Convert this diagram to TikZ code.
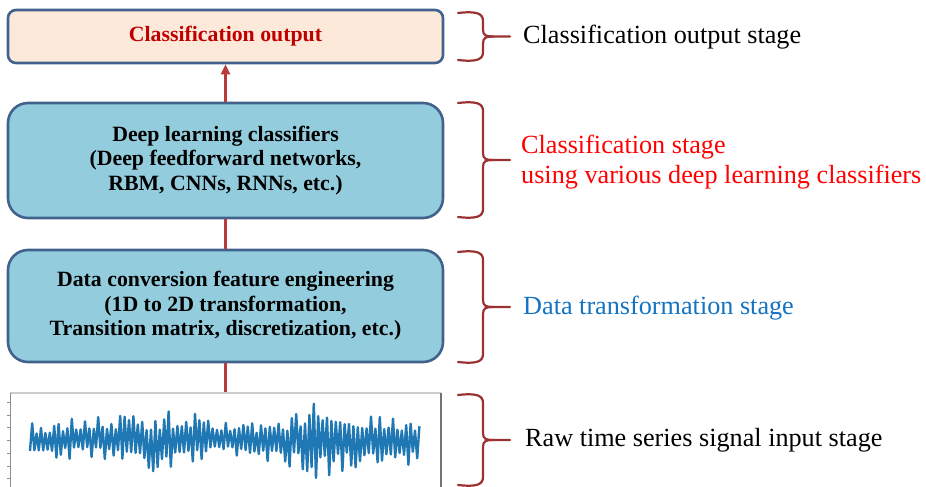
\documentclass[tikz,border=0pt]{standalone}
\usepackage{fontspec}
\setmainfont{Liberation Serif}
\usetikzlibrary{arrows.meta}
\definecolor{boxedge}{RGB}{65,98,140}
\definecolor{outfill}{RGB}{253,233,217}
\definecolor{stagefill}{RGB}{147,205,221}
\definecolor{outtext}{RGB}{192,0,0}
\definecolor{linkcol}{RGB}{185,60,60}
\definecolor{bracecol}{RGB}{155,50,50}
\definecolor{transblue}{RGB}{20,115,195}
\definecolor{sigblue}{RGB}{31,119,180}
\tikzset{
  stagebox/.style={draw=boxedge, line width=2.6pt, fill=stagefill, rounded corners=20pt,
    minimum width=435pt, align=center, inner sep=0pt,
    font=\bfseries\fontsize{21.8}{24.5}\selectfont},
  outbox/.style={stagebox, fill=outfill, rounded corners=8pt, text=outtext},
  link/.style={draw=linkcol, line width=2.3pt},
  bracestyle/.style={draw=bracecol, line width=2.2pt, line cap=round},
  stagelabel/.style={anchor=west, inner sep=0pt, align=left,
    font=\fontsize{26.2}{30}\selectfont}
}
% curly brace: top y, bottom y
\newcommand\stagebrace[2]{%
  \pgfmathsetmacro\bmid{(#1+#2)/2}%
  \draw[bracestyle] (458,#1) .. controls (476,#1-2) and (483,#1) .. (483,#1+8)
    -- (483,\bmid-7) .. controls (483,\bmid-1) and (486,\bmid) .. (493,\bmid) -- (510,\bmid);
  \draw[bracestyle] (458,#2) .. controls (476,#2+2) and (483,#2) .. (483,#2-8)
    -- (483,\bmid+7) .. controls (483,\bmid+1) and (486,\bmid) .. (493,\bmid);
}
\begin{document}
\begin{tikzpicture}[x=1pt, y=-1pt,
  declare function={
    sx(\k) = 30 + 2.2*\k;
    env(\t) = 15 + 7*exp(-((\t-165)/60)^2) + 17*exp(-((\t-322)/28)^2)
              + 7*exp(-((\t-382)/35)^2) - 4*exp(-((\t-222)/14)^2);
    flip(\k) = 1 - 2*mod(round(\k),2);
  }]
\useasboundingbox (0,0) rectangle (926,487);

% stage boxes
\node[outbox, minimum height=53pt] (out) at (225.5,36.5) {Classification output};
\node[stagebox, minimum height=115pt] (cls) at (225.5,160.5)
  {Deep learning classifiers\\(Deep feedforward networks,\\RBM, CNNs, RNNs, etc.)};
\node[stagebox, minimum height=112pt] (conv) at (225.5,306)
  {Data conversion feature engineering\\(1D to 2D transformation,\\Transition matrix, discretization, etc.)};
\coordinate (sig) at (225.5,393);

% connectors
\draw[link] (conv.south) -- (sig);
\draw[link] (cls.south) -- (conv.north);
\draw[link, -{Triangle[length=10pt,width=9pt]}] (cls.north) -- (out.south);

% raw signal plot
\draw[black!20, line width=2pt] (10,393) -- (441,393);
\draw[black!45, line width=1pt] (10,393) -- (10,487);
\draw[black!55, line width=1.4pt] (441,393) -- (441,487);
\foreach \t in {402,415,427,440,453,466,478}
  \draw[black!45, line width=0.8pt] (7,\t) -- (10,\t);
% one sample every 2.2pt, sign alternating from one sample to the next
\pgfmathsetseed{17}
\draw[sigblue, line width=2.4pt, line join=round]
  plot[variable=\k, domain=0:177, samples=178]
  ({sx(\k)}, {440 + 2*sin(3*sx(\k)) + env(sx(\k)) * flip(\k) * (0.55 + 0.8*rnd^3)});

% braces
\stagebrace{13}{60}
\stagebrace{103}{217}
\stagebrace{252}{362}
\stagebrace{395}{485}

% stage labels
\node[stagelabel] (l1) at (523,37) {Classification output stage};
\node[stagelabel, text=red] (l2) at (521,162) {Classification stage\\using various deep learning classifiers};
\node[stagelabel, text=transblue] (l3) at (523,308) {Data transformation stage};
\node[stagelabel] (l4) at (525,440) {Raw time series signal input stage};
\end{tikzpicture}
\end{document}
